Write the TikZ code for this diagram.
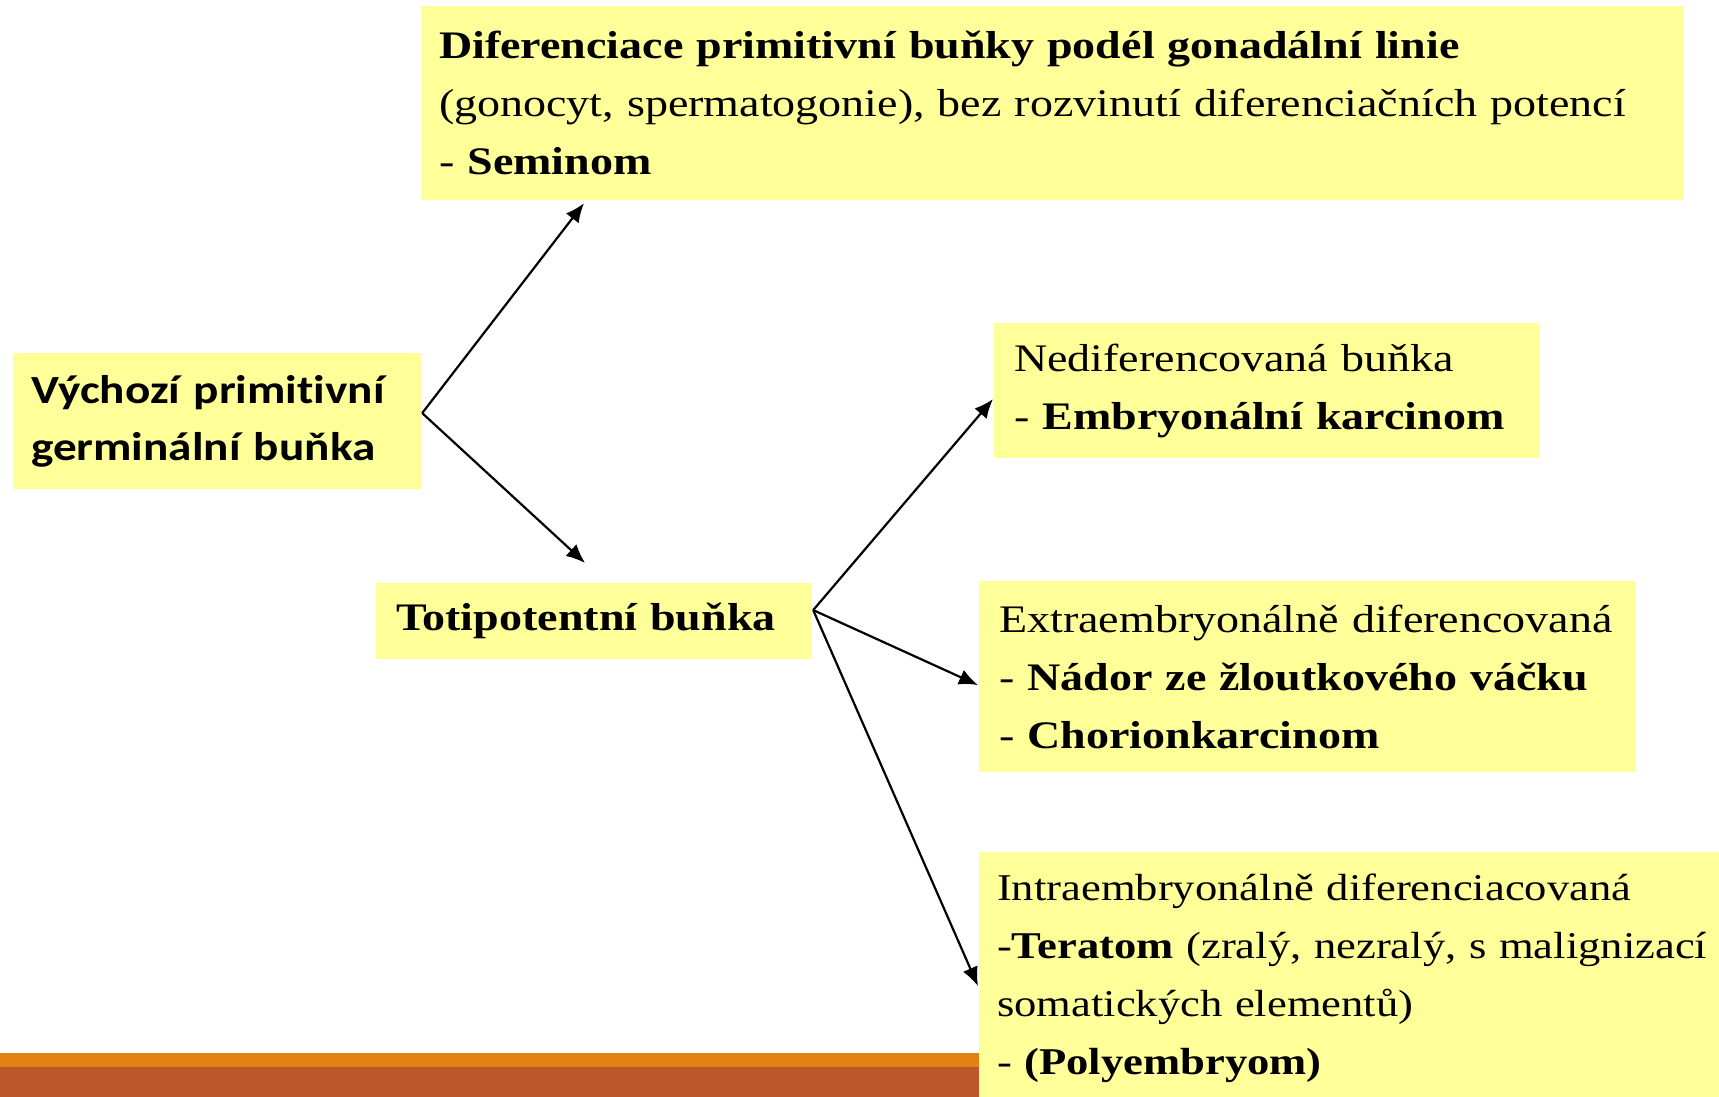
\documentclass[tikz,border=0pt]{standalone}
\usepackage{fontspec}
\setmainfont[FakeStretch=1.18]{Liberation Serif}
\newfontfamily\slidesans[FakeStretch=1.18,Ligatures=NoCommon]{Carlito}
\usepackage{tikz}
\usetikzlibrary{arrows.meta,positioning}
\definecolor{boxyellow}{HTML}{FFFF99}
\definecolor{barorange}{HTML}{E38213}
\definecolor{barred}{HTML}{BE582C}

\begin{document}
\begin{tikzpicture}[->,>={Latex[length=9.5pt,width=8pt]},line width=1.1pt,
    x=0.5pt,y=-0.5pt,every node/.style={font=\fontsize{19.5}{29}\selectfont}]
  \tikzstyle{box}=[fill=boxyellow,anchor=north west,align=left,inner ysep=0pt,
    inner xsep=10pt]
  \useasboundingbox (0,0) rectangle (1719,1097);
  \fill[barorange] (0,1053) rectangle (1719,1067);
  \fill[barred] (0,1067) rectangle (1719,1097);

  \node[box,inner xsep=9pt,text width=613.5pt,minimum height=97pt] (gonad) at (420,5)
    {\textbf{Diferenciace primitivní buňky podél gonadální linie}\\
     (gonocyt, spermatogonie), bez rozvinutí diferenciačních potencí\\
     - \textbf{Seminom}};
  \node[box,inner xsep=9pt,text width=186pt,minimum height=68pt,
    font=\slidesans\bfseries\fontsize{20}{28.5}\selectfont] (start) at (12,352)
    {Výchozí primitivní\\ germinální buňka};
  \node[box,text width=198pt,minimum height=38pt] (toti) at (375,582)
    {\textbf{Totipotentní buňka}};
  \node[box,text width=252.5pt,minimum height=67.5pt] (embr) at (993,322)
    {Nediferencovaná buňka\\ - \textbf{Embryonální karcinom}};
  \node[box,text width=308.5pt,minimum height=95.5pt] (extra) at (978,580)
    {Extraembryonálně diferencovaná\\ - \textbf{Nádor ze žloutkového váčku}\\
     - \textbf{Chorionkarcinom}};
  \node[box,inner xsep=9pt,text width=430pt,minimum height=126pt,
    font=\fontsize{18.9}{29}\selectfont] (intra) at (978,851)
    {Intraembryonálně diferenciacovaná\\
     -\textbf{Teratom} (zralý, nezralý, s malignizací\\
     somatických elementů)\\ - \textbf{(Polyembryom)}};

  \draw ([yshift=4pt]start.east) -- ([xshift=82pt,yshift=-1pt]gonad.south west);
  \draw ([yshift=4pt]start.east) -- ([shift={(-4.5pt,9.5pt)}]toti.north);
  \draw ([yshift=5.5pt]toti.east) -- ([yshift=-4.25pt]embr.west);
  \draw ([yshift=5.5pt]toti.east) -- ([yshift=-4.25pt]extra.west);
  \draw ([yshift=5.5pt]toti.east) -- ([yshift=-4pt]intra.west);
\end{tikzpicture}
\end{document}
